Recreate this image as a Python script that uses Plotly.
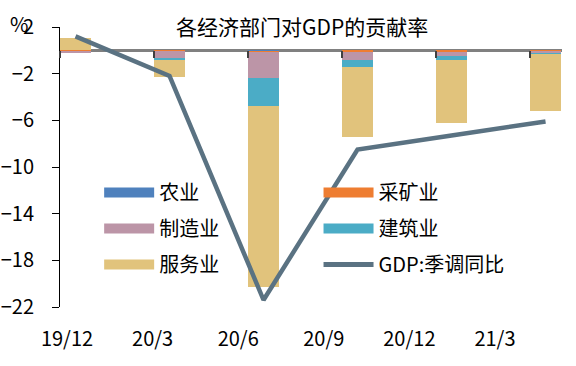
import plotly.graph_objects as go

categories = ["19/12", "20/3", "20/6", "20/9", "20/12", "21/3"]
agri = [0.0, -0.02, -0.08, -0.05, -0.05, -0.03]
mining = [-0.03, -0.03, -0.10, -0.10, -0.10, -0.08]
manuf = [-0.20, -0.60, -2.20, -0.65, -0.30, -0.15]
constr = [0.0, -0.20, -2.40, -0.65, -0.35, -0.05]
services = [1.10, -1.40, -15.50, -6.00, -5.40, -4.90]
gdp = [1.2, -2.2, -21.4, -8.5, -7.3, -6.1]
yticks = [2, -2, -6, -10, -14, -18, -22]

names = ["农业", "采矿业", "制造业", "建筑业", "服务业"]
colors = ["#4F81BD", "#EE7D31", "#BC95A7", "#4BACC6", "#E1C37C"]
series = [agri, mining, manuf, constr, services]
line_color = "#5A7282"
FONT = "Noto Sans CJK SC"

fig = go.Figure()
for n, c, s in zip(names, colors, series):
    fig.add_trace(go.Bar(x=categories, y=s, name=n, marker=dict(color=c, line=dict(width=0)),
                         width=0.33, showlegend=False))
fig.add_trace(go.Scatter(x=categories, y=gdp, mode="lines", name="GDP:季调同比",
                         line=dict(color=line_color, width=4.5), showlegend=False))

# legend-only entries (two columns)
legend_of = ["legend", "legend2", "legend", "legend2", "legend"]
for i, (n, c) in enumerate(zip(names, colors)):
    fig.add_trace(go.Scatter(x=[None], y=[None], mode="lines", name=n,
                             line=dict(color=c, width=12), legend=legend_of[i],
                             legendgroup=n))
fig.add_trace(go.Scatter(x=[None], y=[None], mode="lines", name="GDP:季调同比",
                         line=dict(color=line_color, width=5), legend="legend2",
                         legendgroup="gdp"))

# helper traces for the label axis and the zero-line tick axis
fig.add_trace(go.Scatter(x=categories, y=[None] * len(categories), xaxis="x2",
                         showlegend=False, hoverinfo="skip"))
fig.add_trace(go.Scatter(x=[0, 1], y=[None, None], xaxis="x3",
                         showlegend=False, hoverinfo="skip"))

leg_common = dict(font=dict(family=FONT, size=20, color="#000000"),
                  bgcolor="rgba(0,0,0,0)", borderwidth=0, itemwidth=50,
                  tracegroupgap=7, xanchor="left", yanchor="top", orientation="v")

fig.update_layout(
    width=576, height=366,
    margin=dict(l=60, r=14, t=27, b=59, autoexpand=False),
    paper_bgcolor="white", plot_bgcolor="white",
    barmode="relative", bargap=0,
    font=dict(family=FONT, size=20, color="#000000"),
    xaxis=dict(type="category", range=[-0.165, 5.175], showticklabels=False,
               showline=False, showgrid=False, ticks="", zeroline=False, automargin=False),
    xaxis2=dict(type="category", overlaying="x", side="bottom", anchor="y",
                range=[-0.082, 5.783], showline=False, showgrid=False, ticks="",
                ticklabelstandoff=18, automargin=False,
                tickfont=dict(family=FONT, size=20, color="#000000")),
    xaxis3=dict(type="linear", overlaying="x", anchor="free", position=22 / 24,
                range=[-0.165, 5.175], tickmode="linear", tick0=-0.165, dtick=1,
                ticks="outside", ticklen=7, tickwidth=2, tickcolor="#404040",
                showticklabels=False, showline=False, showgrid=False, zeroline=False,
                automargin=False),
    yaxis=dict(range=[-22, 2], tickvals=yticks, ticks="outside", ticklen=7,
               tickcolor="#000000", tickwidth=1, showline=True, linecolor="#000000",
               linewidth=1, showgrid=False, zeroline=True, zerolinecolor="#808080",
               zerolinewidth=2.5, ticklabelstandoff=14, automargin=False,
               tickfont=dict(family=FONT, size=20, color="#000000")),
    legend=dict(x=0.078, y=0.479, **leg_common),
    legend2=dict(x=0.515, y=0.479, **leg_common),
    annotations=[
        dict(text="各经济部门对GDP的贡献率", xref="paper", yref="paper",
             x=(302 - 60) / 502, y=1 + 1 / 280,
             xanchor="center", yanchor="middle", showarrow=False,
             font=dict(family=FONT, size=21, color="#000000")),
        dict(text="%", xref="paper", yref="paper", x=(19 - 60) / 502, y=1 + 3.5 / 280,
             xanchor="center", yanchor="middle", showarrow=False,
             font=dict(family=FONT, size=20, color="#000000")),
    ],
)

fig.write_html("out.html", config={"displayModeBar": False},
               post_script="document.body.style.margin='0';")
